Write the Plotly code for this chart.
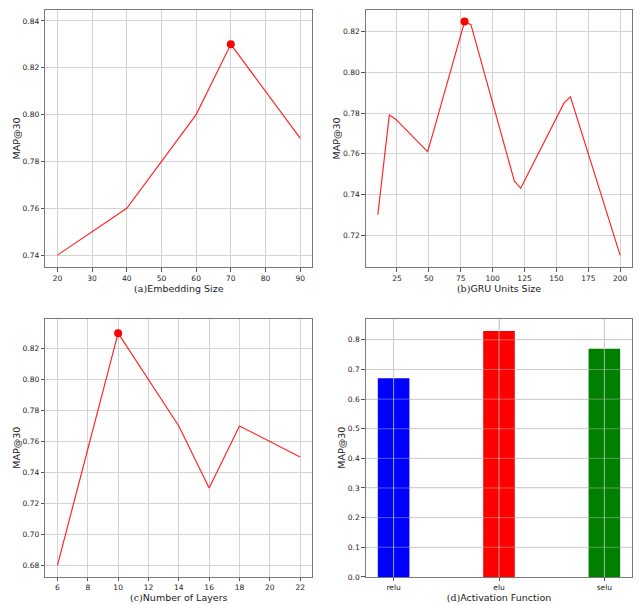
import plotly.graph_objects as go

# (a) embedding size sweep
emb_size = [20, 40, 60, 70, 90]
emb_map = [0.74, 0.76, 0.80, 0.83, 0.79]

# (b) GRU units sweep
gru_units = [10, 19, 24, 49, 53, 78, 83, 117, 122, 156, 161, 200]
gru_map = [0.730, 0.779, 0.777, 0.761, 0.7695, 0.825, 0.8235, 0.7466, 0.743, 0.785, 0.788, 0.710]

# (c) number of layers sweep
n_layers = [6, 10, 14, 16, 18, 22]
layers_map = [0.68, 0.83, 0.77, 0.73, 0.77, 0.75]

# (d) activation function comparison
activations = ["relu", "elu", "selu"]
act_map = [0.67, 0.83, 0.77]
act_colors = ["blue", "red", "green"]

# tick values
a_xticks = [20, 30, 40, 50, 60, 70, 80, 90]
a_yticks = [0.74, 0.76, 0.78, 0.80, 0.82, 0.84]
b_xticks = [25, 50, 75, 100, 125, 150, 175, 200]
b_yticks = [0.72, 0.74, 0.76, 0.78, 0.80, 0.82]
c_xticks = [6, 8, 10, 12, 14, 16, 18, 20, 22]
c_yticks = [0.68, 0.70, 0.72, 0.74, 0.76, 0.78, 0.80, 0.82]
d_yticks = [0.0, 0.1, 0.2, 0.3, 0.4, 0.5, 0.6, 0.7, 0.8]

W, H = 638, 605
FONT = "DejaVu Sans"
SERIF = "DejaVu Serif"
GRID = "#d3d3d3"
FRAME = "#7a7a7a"
TICKFONT = dict(family=FONT, size=7.5, color="#222")
TITLEFONT = dict(family=FONT, size=9.5, color="#222")
LINE_RED = "rgba(255,0,0,0.85)"


def px_x(a, b):
    return [a / W, b / W]


def px_y(top, bottom):
    return [1 - bottom / H, 1 - top / H]


def xtitle(tag, text):
    return f'<span style="font-family:{SERIF}">({tag})</span>{text}'


def argmax(vals):
    return max(range(len(vals)), key=lambda i: vals[i])


fig = go.Figure()

panels = [
    ("x", "y", emb_size, emb_map),
    ("x2", "y2", gru_units, gru_map),
    ("x3", "y3", n_layers, layers_map),
]
for xa, ya, xs, ys in panels:
    fig.add_trace(go.Scatter(x=xs, y=ys, mode="lines", xaxis=xa, yaxis=ya,
                             line=dict(color=LINE_RED, width=1.2), showlegend=False))
    k = argmax(ys)
    fig.add_trace(go.Scatter(x=[xs[k]], y=[ys[k]], mode="markers", xaxis=xa, yaxis=ya,
                             marker=dict(color="red", size=8), showlegend=False))

fig.add_trace(go.Bar(x=list(range(len(activations))), y=act_map, width=0.3,
                     marker=dict(color=act_colors, line=dict(width=0)),
                     xaxis="x4", yaxis="y4", showlegend=False))

common = dict(showgrid=True, gridcolor=GRID, gridwidth=1, zeroline=False,
              showline=True, mirror=True, linecolor=FRAME, linewidth=1,
              ticks="outside", ticklen=3.5, tickcolor="#555", tickwidth=1,
              tickfont=TICKFONT)


def xaxis(dom, anchor, rng, ticks, title, **kw):
    d = dict(common)
    d.update(domain=dom, anchor=anchor, range=rng, tickmode="array", tickvals=ticks,
             title=dict(text=title, font=TITLEFONT, standoff=0))
    d.update(kw)
    return d


def yaxis(dom, anchor, rng, ticks, fmt, **kw):
    d = dict(common)
    d.update(domain=dom, anchor=anchor, range=rng, tickmode="array", tickvals=ticks,
             ticktext=[fmt.format(v) for v in ticks],
             title=dict(text="MAP@30", font=TITLEFONT, standoff=0))
    d.update(kw)
    return d


XL = px_x(45.3, 312.3)
XR = px_x(365.7, 632.3)
YT = px_y(10, 269.3)
YB = px_y(321.3, 581.7)

fig.update_layout(
    width=W, height=H, margin=dict(l=0, r=0, t=0, b=0),
    paper_bgcolor="white", plot_bgcolor="white",
    font=dict(family=FONT),
    xaxis=xaxis(XL, "y", [16.5, 93.5], a_xticks, xtitle("a", "Embedding Size")),
    yaxis=yaxis(YT, "x", [0.7349, 0.8447], a_yticks, "{:.2f}"),
    xaxis2=xaxis(XR, "y2", [0.5, 209.5], b_xticks, xtitle("b", "GRU Units Size")),
    yaxis2=yaxis(YT, "x2", [0.70425, 0.83075], b_yticks, "{:.2f}"),
    xaxis3=xaxis(XL, "y3", [5.2, 22.8], c_xticks, xtitle("c", "Number of Layers")),
    yaxis3=yaxis(YB, "x3", [0.6725, 0.8394], c_yticks, "{:.2f}"),
    xaxis4=xaxis(XR, "y4", [-0.265, 2.265], list(range(len(activations))),
                 xtitle("d", "Activation Function"),
                 ticktext=activations),
    yaxis4=yaxis(YB, "x4", [0, 0.8715], d_yticks, "{:.1f}"),
)

# grid of the bar panel is drawn over the bars
for i in range(len(activations)):
    fig.add_shape(type="line", xref="x4", yref="y4 domain", x0=i, x1=i, y0=0, y1=1,
                  line=dict(color="rgba(200,200,200,0.8)", width=1), layer="above")
for v in d_yticks[1:]:
    fig.add_shape(type="line", xref="x4 domain", yref="y4", x0=0, x1=1, y0=v, y1=v,
                  line=dict(color="rgba(200,200,200,0.45)", width=1), layer="above")

fig.write_html("out.html")
